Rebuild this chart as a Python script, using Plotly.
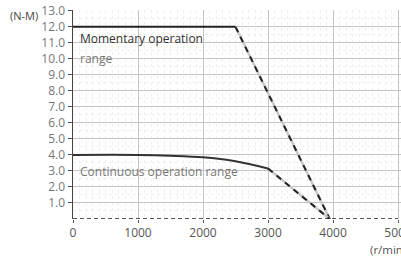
import plotly.graph_objects as go

# Data
mom_x = [0, 2500]
mom_y = [12.0, 12.0]
mom_drop_x = [2500, 3950]
mom_drop_y = [12.0, 0.0]
cont_x = [0, 1000, 1500, 2000, 2500, 3000]
cont_y = [4.0, 4.0, 3.95, 3.85, 3.6, 3.15]
cont_drop_x = [3000, 3950]
cont_drop_y = [3.15, 0.0]
base_x = [0, 5000]
base_y = [0.0, 0.0]
x_ticks = [0, 1000, 2000, 3000, 4000, 5000]
y_ticks = [1.0, 2.0, 3.0, 4.0, 5.0, 6.0, 7.0, 8.0, 9.0, 10.0, 11.0, 12.0, 13.0]

fig = go.Figure()

# soft gray under-lines for dashed segments
for xs, ys in [(mom_drop_x, mom_drop_y), (cont_drop_x, cont_drop_y)]:
    fig.add_trace(go.Scatter(x=xs, y=ys, mode="lines",
                             line=dict(color="#c8c8c8", width=2.5), hoverinfo="skip"))
    fig.add_trace(go.Scatter(x=xs, y=ys, mode="lines",
                             line=dict(color="#222222", width=2, dash="6px,5px"), hoverinfo="skip"))

fig.add_trace(go.Scatter(x=mom_x, y=mom_y, mode="lines",
                         line=dict(color="#222222", width=2), hoverinfo="skip"))
fig.add_trace(go.Scatter(x=cont_x, y=cont_y, mode="lines",
                         line=dict(color="#333333", width=2), line_shape="spline", hoverinfo="skip"))
fig.add_trace(go.Scatter(x=base_x, y=base_y, mode="lines",
                         line=dict(color="#222222", width=1.5, dash="4px,3px"), hoverinfo="skip"))

font_main = "Open Sans, DejaVu Sans, sans-serif"

fig.update_layout(
    width=401, height=259,
    margin=dict(l=73, r=0, t=10, b=40, autoexpand=False),
    paper_bgcolor="white", plot_bgcolor="white",
    showlegend=False,
    font=dict(family=font_main, size=12, color="#666666"),
    xaxis=dict(range=[0, 5046], tickvals=x_ticks, ticktext=[str(v) for v in x_ticks],
               showgrid=True, gridcolor="#c4c4c4", gridwidth=1, dtick=500,
               ticks="outside", ticklen=3, tickcolor="#555555",
               tickfont=dict(size=12, color="#555555"), ticklabeloverflow="allow",
               minor=dict(dtick=100, showgrid=True, gridcolor="#efefef", griddash="dot"),
               showline=False, zeroline=False, fixedrange=True, automargin=False),
    yaxis=dict(range=[0, 13.05], tickvals=y_ticks, ticktext=[f"{v:.1f}" for v in y_ticks],
               showgrid=True, gridcolor="#c4c4c4", gridwidth=1,
               ticks="outside", ticklen=4, tickcolor="#555555",
               tickfont=dict(size=12, color="#777777"),
               minor=dict(dtick=0.5, showgrid=True, gridcolor="#efefef", griddash="dot"),
               showline=True, linecolor="#444444", linewidth=1.5,
               zeroline=False, fixedrange=True, automargin=False),
    annotations=[
        dict(x=78, y=11.3, xref="x", yref="y", text="Momentary operation", showarrow=False,
             xanchor="left", yanchor="middle", font=dict(size=12, color="#333333")),
        dict(x=78, y=10.0, xref="x", yref="y", text="range", showarrow=False,
             xanchor="left", yanchor="middle", font=dict(size=12, color="#777777")),
        dict(x=78, y=2.95, xref="x", yref="y", text="Continuous operation range", showarrow=False,
             xanchor="left", yanchor="middle", font=dict(size=12, color="#777777")),
        dict(x=-65/328, y=(259-40-15)/209, xref="paper", yref="paper", xanchor="left", yanchor="middle",
             text="(N-M)", showarrow=False, font=dict(size=11, color="#444444")),
        dict(x=(368-73)/328, y=-(249-219)/209, xref="paper", yref="paper",
             xanchor="left", yanchor="middle", text="(r/min)", showarrow=False,
             font=dict(size=11.5, color="#555555")),
    ],
)

fig.write_html("out.html", config={"displayModeBar": False, "staticPlot": True})
with open("out.html", "r", encoding="utf-8") as f:
    html = f.read()
html = html.replace("<head>", "<head><style>html,body{margin:0;padding:0;overflow:hidden;}</style>", 1)
with open("out.html", "w", encoding="utf-8") as f:
    f.write(html)
